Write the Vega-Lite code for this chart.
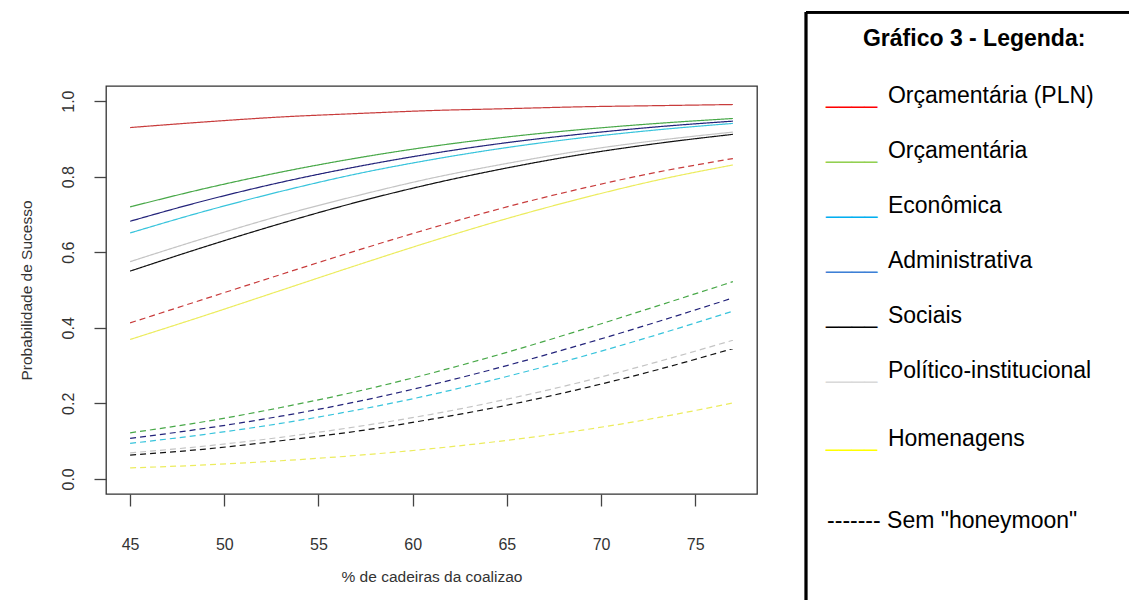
{
  "$schema": "https://vega.github.io/schema/vega-lite/v6.json",
  "background": "white",
  "padding": {"left": 18, "top": 10, "right": 0, "bottom": 0},
  "config": {"font": "Liberation Sans", "text": {"font": "Liberation Sans"}},
  "datasets": {
    "curvas": [
      {"x":45,"p":0.930,"area":"Orçamentária (PLN)","cond":"com"},{"x":49,"p":0.945,"area":"Orçamentária (PLN)","cond":"com"},{"x":53,"p":0.958,"area":"Orçamentária (PLN)","cond":"com"},{"x":57,"p":0.967,"area":"Orçamentária (PLN)","cond":"com"},{"x":61,"p":0.975,"area":"Orçamentária (PLN)","cond":"com"},{"x":65,"p":0.980,"area":"Orçamentária (PLN)","cond":"com"},{"x":69,"p":0.985,"area":"Orçamentária (PLN)","cond":"com"},{"x":73,"p":0.988,"area":"Orçamentária (PLN)","cond":"com"},{"x":77,"p":0.991,"area":"Orçamentária (PLN)","cond":"com"},
      {"x":45,"p":0.720,"area":"Orçamentária","cond":"com"},{"x":49,"p":0.769,"area":"Orçamentária","cond":"com"},{"x":53,"p":0.812,"area":"Orçamentária","cond":"com"},{"x":57,"p":0.849,"area":"Orçamentária","cond":"com"},{"x":61,"p":0.880,"area":"Orçamentária","cond":"com"},{"x":65,"p":0.905,"area":"Orçamentária","cond":"com"},{"x":69,"p":0.925,"area":"Orçamentária","cond":"com"},{"x":73,"p":0.941,"area":"Orçamentária","cond":"com"},{"x":77,"p":0.954,"area":"Orçamentária","cond":"com"},
      {"x":45,"p":0.651,"area":"Econômica","cond":"com"},{"x":49,"p":0.709,"area":"Econômica","cond":"com"},{"x":53,"p":0.761,"area":"Econômica","cond":"com"},{"x":57,"p":0.807,"area":"Econômica","cond":"com"},{"x":61,"p":0.845,"area":"Econômica","cond":"com"},{"x":65,"p":0.877,"area":"Econômica","cond":"com"},{"x":69,"p":0.903,"area":"Econômica","cond":"com"},{"x":73,"p":0.924,"area":"Econômica","cond":"com"},{"x":77,"p":0.941,"area":"Econômica","cond":"com"},
      {"x":45,"p":0.682,"area":"Administrativa","cond":"com"},{"x":49,"p":0.737,"area":"Administrativa","cond":"com"},{"x":53,"p":0.785,"area":"Administrativa","cond":"com"},{"x":57,"p":0.826,"area":"Administrativa","cond":"com"},{"x":61,"p":0.861,"area":"Administrativa","cond":"com"},{"x":65,"p":0.890,"area":"Administrativa","cond":"com"},{"x":69,"p":0.913,"area":"Administrativa","cond":"com"},{"x":73,"p":0.932,"area":"Administrativa","cond":"com"},{"x":77,"p":0.947,"area":"Administrativa","cond":"com"},
      {"x":45,"p":0.550,"area":"Sociais","cond":"com"},{"x":49,"p":0.615,"area":"Sociais","cond":"com"},{"x":53,"p":0.676,"area":"Sociais","cond":"com"},{"x":57,"p":0.732,"area":"Sociais","cond":"com"},{"x":61,"p":0.781,"area":"Sociais","cond":"com"},{"x":65,"p":0.823,"area":"Sociais","cond":"com"},{"x":69,"p":0.859,"area":"Sociais","cond":"com"},{"x":73,"p":0.888,"area":"Sociais","cond":"com"},{"x":77,"p":0.912,"area":"Sociais","cond":"com"},
      {"x":45,"p":0.575,"area":"Político-institucional","cond":"com"},{"x":49,"p":0.638,"area":"Político-institucional","cond":"com"},{"x":53,"p":0.697,"area":"Político-institucional","cond":"com"},{"x":57,"p":0.749,"area":"Político-institucional","cond":"com"},{"x":61,"p":0.796,"area":"Político-institucional","cond":"com"},{"x":65,"p":0.835,"area":"Político-institucional","cond":"com"},{"x":69,"p":0.869,"area":"Político-institucional","cond":"com"},{"x":73,"p":0.896,"area":"Político-institucional","cond":"com"},{"x":77,"p":0.918,"area":"Político-institucional","cond":"com"},
      {"x":45,"p":0.369,"area":"Homenagens","cond":"com"},{"x":49,"p":0.433,"area":"Homenagens","cond":"com"},{"x":53,"p":0.499,"area":"Homenagens","cond":"com"},{"x":57,"p":0.565,"area":"Homenagens","cond":"com"},{"x":61,"p":0.629,"area":"Homenagens","cond":"com"},{"x":65,"p":0.689,"area":"Homenagens","cond":"com"},{"x":69,"p":0.743,"area":"Homenagens","cond":"com"},{"x":73,"p":0.791,"area":"Homenagens","cond":"com"},{"x":77,"p":0.831,"area":"Homenagens","cond":"com"},
      {"x":45,"p":0.413,"area":"Orçamentária (PLN)","cond":"sem"},{"x":49,"p":0.477,"area":"Orçamentária (PLN)","cond":"sem"},{"x":53,"p":0.541,"area":"Orçamentária (PLN)","cond":"sem"},{"x":57,"p":0.604,"area":"Orçamentária (PLN)","cond":"sem"},{"x":61,"p":0.664,"area":"Orçamentária (PLN)","cond":"sem"},{"x":65,"p":0.720,"area":"Orçamentária (PLN)","cond":"sem"},{"x":69,"p":0.769,"area":"Orçamentária (PLN)","cond":"sem"},{"x":73,"p":0.812,"area":"Orçamentária (PLN)","cond":"sem"},{"x":77,"p":0.848,"area":"Orçamentária (PLN)","cond":"sem"},
      {"x":45,"p":0.122,"area":"Orçamentária","cond":"sem"},{"x":49,"p":0.152,"area":"Orçamentária","cond":"sem"},{"x":53,"p":0.189,"area":"Orçamentária","cond":"sem"},{"x":57,"p":0.231,"area":"Orçamentária","cond":"sem"},{"x":61,"p":0.280,"area":"Orçamentária","cond":"sem"},{"x":65,"p":0.335,"area":"Orçamentária","cond":"sem"},{"x":69,"p":0.395,"area":"Orçamentária","cond":"sem"},{"x":73,"p":0.458,"area":"Orçamentária","cond":"sem"},{"x":77,"p":0.522,"area":"Orçamentária","cond":"sem"},
      {"x":45,"p":0.094,"area":"Econômica","cond":"sem"},{"x":49,"p":0.118,"area":"Econômica","cond":"sem"},{"x":53,"p":0.147,"area":"Econômica","cond":"sem"},{"x":57,"p":0.182,"area":"Econômica","cond":"sem"},{"x":61,"p":0.223,"area":"Econômica","cond":"sem"},{"x":65,"p":0.271,"area":"Econômica","cond":"sem"},{"x":69,"p":0.324,"area":"Econômica","cond":"sem"},{"x":73,"p":0.382,"area":"Econômica","cond":"sem"},{"x":77,"p":0.444,"area":"Econômica","cond":"sem"},
      {"x":45,"p":0.107,"area":"Administrativa","cond":"sem"},{"x":49,"p":0.134,"area":"Administrativa","cond":"sem"},{"x":53,"p":0.166,"area":"Administrativa","cond":"sem"},{"x":57,"p":0.204,"area":"Administrativa","cond":"sem"},{"x":61,"p":0.249,"area":"Administrativa","cond":"sem"},{"x":65,"p":0.300,"area":"Administrativa","cond":"sem"},{"x":69,"p":0.356,"area":"Administrativa","cond":"sem"},{"x":73,"p":0.416,"area":"Administrativa","cond":"sem"},{"x":77,"p":0.479,"area":"Administrativa","cond":"sem"},
      {"x":45,"p":0.063,"area":"Sociais","cond":"sem"},{"x":49,"p":0.079,"area":"Sociais","cond":"sem"},{"x":53,"p":0.101,"area":"Sociais","cond":"sem"},{"x":57,"p":0.126,"area":"Sociais","cond":"sem"},{"x":61,"p":0.158,"area":"Sociais","cond":"sem"},{"x":65,"p":0.195,"area":"Sociais","cond":"sem"},{"x":69,"p":0.239,"area":"Sociais","cond":"sem"},{"x":73,"p":0.289,"area":"Sociais","cond":"sem"},{"x":77,"p":0.345,"area":"Sociais","cond":"sem"},
      {"x":45,"p":0.069,"area":"Político-institucional","cond":"sem"},{"x":49,"p":0.087,"area":"Político-institucional","cond":"sem"},{"x":53,"p":0.110,"area":"Político-institucional","cond":"sem"},{"x":57,"p":0.138,"area":"Político-institucional","cond":"sem"},{"x":61,"p":0.171,"area":"Político-institucional","cond":"sem"},{"x":65,"p":0.211,"area":"Político-institucional","cond":"sem"},{"x":69,"p":0.257,"area":"Político-institucional","cond":"sem"},{"x":73,"p":0.310,"area":"Político-institucional","cond":"sem"},{"x":77,"p":0.367,"area":"Político-institucional","cond":"sem"},
      {"x":45,"p":0.029,"area":"Homenagens","cond":"sem"},{"x":49,"p":0.037,"area":"Homenagens","cond":"sem"},{"x":53,"p":0.048,"area":"Homenagens","cond":"sem"},{"x":57,"p":0.062,"area":"Homenagens","cond":"sem"},{"x":61,"p":0.080,"area":"Homenagens","cond":"sem"},{"x":65,"p":0.102,"area":"Homenagens","cond":"sem"},{"x":69,"p":0.129,"area":"Homenagens","cond":"sem"},{"x":73,"p":0.162,"area":"Homenagens","cond":"sem"},{"x":77,"p":0.201,"area":"Homenagens","cond":"sem"}
    ],
    "legenda": [
      {"tipo":"titulo","texto":"Gráfico 3 - Legenda:","ordem":-0.03},
      {"tipo":"item","texto":"Orçamentária (PLN)","ordem":1},
      {"tipo":"item","texto":"Orçamentária","ordem":2},
      {"tipo":"item","texto":"Econômica","ordem":3},
      {"tipo":"item","texto":"Administrativa","ordem":4},
      {"tipo":"item","texto":"Sociais","ordem":5},
      {"tipo":"item","texto":"Político-institucional","ordem":6},
      {"tipo":"item","texto":"Homenagens","ordem":7.24},
      {"tipo":"nota","texto":"------- Sem \"honeymoon\"","ordem":8.73}
    ]
  },
  "spacing": 46,
  "resolve": {"scale": {"color": "independent", "x": "independent", "y": "independent"}},
  "hconcat": [
    {
      "width": 651,
      "height": 408,
      "view": {"stroke": "#333333", "strokeWidth": 1.3},
      "data": {"name": "curvas"},
      "mark": {"type": "line", "strokeWidth": 1.2, "interpolate": "monotone"},
      "encoding": {
        "x": {
          "field": "x", "type": "quantitative",
          "scale": {"domain": [43.72, 78.28], "nice": false, "zero": false},
          "axis": {
            "values": [45, 50, 55, 60, 65, 70, 75], "title": "% de cadeiras da coalizao",
            "domain": false, "grid": false, "tickSize": 12, "tickWidth": 1.3, "tickColor": "#444444",
            "labelPadding": 30, "labelFontSize": 16, "labelColor": "#333333", "labelFlush": false,
            "labelFont": "Liberation Sans", "titleFont": "Liberation Sans",
            "titleFontSize": 15.5, "titleFontWeight": "normal", "titleColor": "#333333", "titlePadding": 17
          }
        },
        "y": {
          "field": "p", "type": "quantitative",
          "scale": {"domain": [-0.04, 1.04], "nice": false, "zero": false},
          "axis": {
            "values": [0, 0.2, 0.4, 0.6, 0.8, 1.0], "format": ".1f", "title": "Probabilidade de Sucesso",
            "domain": false, "grid": false, "tickSize": 12, "tickWidth": 1.3, "tickColor": "#444444",
            "labelAngle": -90, "labelAlign": "center", "labelBaseline": "bottom", "labelPadding": 18,
            "labelFontSize": 16, "labelColor": "#333333", "labelFlush": false,
            "labelFont": "Liberation Sans", "titleFont": "Liberation Sans",
            "titleFontSize": 15.5, "titleFontWeight": "normal", "titleColor": "#333333", "titlePadding": 26
          }
        },
        "color": {
          "field": "area", "type": "nominal", "legend": null,
          "scale": {
            "domain": ["Orçamentária (PLN)", "Orçamentária", "Econômica", "Administrativa", "Sociais", "Político-institucional", "Homenagens"],
            "range": ["#c83c3c", "#48a848", "#38c4dc", "#23237a", "#111111", "#c4c4c4", "#ecec5e"]
          }
        },
        "strokeDash": {
          "field": "cond", "type": "nominal", "legend": null,
          "scale": {"domain": ["com", "sem"], "range": [[1, 0], [6, 4]]}
        }
      }
    },
    {
      "width": 324,
      "height": 515,
      "view": {"stroke": null},
      "data": {"name": "legenda"},
      "encoding": {
        "y": {"field": "ordem", "type": "quantitative", "axis": null, "scale": {"domain": [0.696, 10.06], "reverse": true, "nice": false, "zero": false}},
        "x": {"datum": 25.3, "type": "quantitative", "axis": null, "scale": {"domain": [0, 100], "nice": false, "zero": false}}
      },
      "layer": [
        {
          "mark": {"type": "rule", "stroke": "#000000", "strokeWidth": 2.2},
          "encoding": {"x": {"datum": 0, "type": "quantitative"}, "y": {"datum": -0.649, "type": "quantitative"}, "y2": {"datum": 10.06}}
        },
        {
          "mark": {"type": "rule", "stroke": "#000000", "strokeWidth": 2.2},
          "encoding": {"y": {"datum": -0.649, "type": "quantitative"}, "x": {"datum": 0, "type": "quantitative"}, "x2": {"datum": 100}}
        },
        {
          "transform": [{"filter": "datum.tipo == 'titulo'"}],
          "mark": {"type": "text", "fontWeight": "bold", "fontSize": 23, "align": "center", "baseline": "alphabetic", "color": "#000000"},
          "encoding": {"x": {"datum": 51.9, "type": "quantitative"}, "text": {"field": "texto"}}
        },
        {
          "transform": [{"filter": "datum.tipo == 'item'"}],
          "mark": {"type": "text", "text": "____", "fontSize": 23, "align": "left", "baseline": "alphabetic"},
          "encoding": {
            "x": {"datum": 6.2, "type": "quantitative"},
            "color": {
              "field": "texto", "type": "nominal", "legend": null,
              "scale": {
                "domain": ["Orçamentária (PLN)", "Orçamentária", "Econômica", "Administrativa", "Sociais", "Político-institucional", "Homenagens"],
                "range": ["#ff0000", "#92d050", "#00b0f0", "#3d7fd6", "#000000", "#d9d9d9", "#ffff00"]
              }
            }
          }
        },
        {
          "transform": [{"filter": "datum.tipo == 'item'"}],
          "mark": {"type": "text", "fontSize": 23, "align": "left", "baseline": "alphabetic", "color": "#000000"},
          "encoding": {"text": {"field": "texto"}}
        },
        {
          "transform": [{"filter": "datum.tipo == 'nota'"}],
          "mark": {"type": "text", "fontSize": 23, "align": "left", "baseline": "alphabetic", "color": "#000000"},
          "encoding": {"x": {"datum": 6.5, "type": "quantitative"}, "text": {"field": "texto"}}
        }
      ]
    }
  ]
}
